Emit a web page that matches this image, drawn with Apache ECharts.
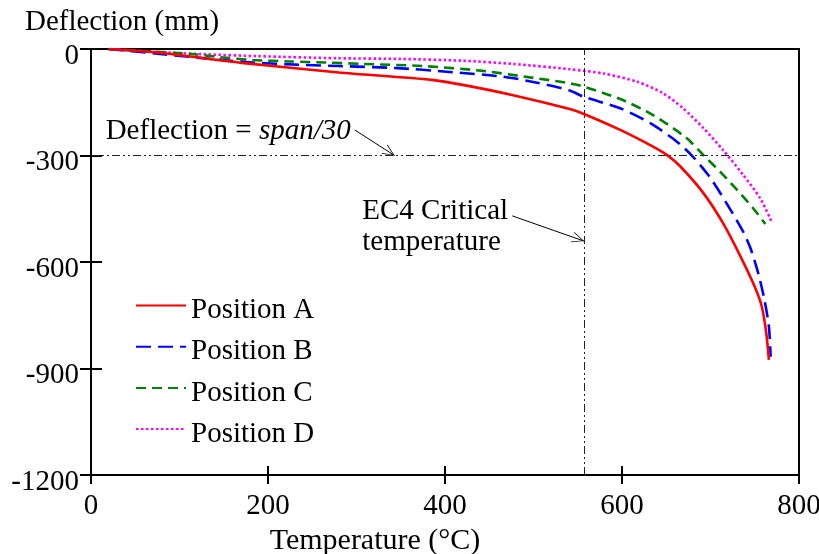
<!DOCTYPE html>
<html><head><meta charset="utf-8">
<script src="https://cdn.jsdelivr.net/npm/echarts@6/dist/echarts.min.js"></script>
<style>html,body{margin:0;padding:0;background:#fff}#c{width:819px;height:554px}</style>
</head><body><div id="c"></div>
<script>
// ---- data ----
const xTicks = [0, 200, 400, 600, 800];
const yTicks = [0, -300, -600, -900, -1200];
const seriesNames = ['Position A', 'Position B', 'Position C', 'Position D'];

const tempA = [20, 75, 170, 280, 385, 420, 477, 541, 557, 598, 635, 651, 666, 692, 714, 733, 750, 758, 763, 766];
const deflA = [0, -10, -39, -66, -87, -101, -130, -169, -183, -228, -275, -299, -331, -406, -490, -580, -670, -726, -800, -876];

const tempB = [20, 70, 176, 242, 280, 347, 402, 466, 504, 541, 556, 598, 632, 662, 680, 699, 718, 737, 745, 754, 761, 766, 768];
const deflB = [0, -12, -37, -45, -48, -54, -64, -78, -95, -117, -134, -167, -209, -261, -303, -360, -434, -515, -560, -632, -707, -782, -867];

const tempC = [20, 70, 112, 146, 183, 225, 266, 307, 375, 440, 496, 549, 598, 635, 673, 692, 711, 730, 748, 762];
const deflC = [0, -7, -14, -23, -31, -35, -38, -42, -48, -61, -80, -101, -141, -186, -251, -299, -346, -397, -448, -493];

const tempD = [20, 78, 131, 187, 278, 350, 420, 477, 541, 579, 617, 646, 669, 692, 714, 737, 756, 769];
const deflD = [0, -9, -15, -20, -26, -28, -33, -42, -57, -69, -92, -124, -167, -223, -284, -355, -420, -486];

const critTemp = 557;      // EC4 critical temperature
const limitDefl = -300;    // span/30

// annotation anchor points (data coordinates)
const spanLabelAt = [16, -231];
const spanArrow = [[298, -228], [343, -300]];
const ecLabelAt = [306, -502];
const ecArrow = [[476, -470], [557, -541]];

// ---- chart ----
const F = 'Liberation Serif';
const FS = 29;
const zip = (a, b) => a.map((v, i) => [v, b[i]]);
const colors = ['#ff0000', '#0000ff', '#008000', '#ff00ff'];
const dashes = ['solid', [15, 7], [10, 6], [2.5, 2.5]];
const temps = [tempA, tempB, tempC, tempD];
const defls = [deflA, deflB, deflC, deflD];

const refStyle = { color: '#222', width: 1, type: [8, 3, 2, 3, 2, 3] };
const chevron = 'path://M0,-12L0.01,-12L0,-11.99ZM0,0L6,12L5,12L0,1.6L-5,12L-6,12Z';

const series = seriesNames.map((n, i) => ({
  name: n, type: 'line', data: zip(temps[i], defls[i]),
  showSymbol: false, symbol: 'none', smooth: 0.25,
  lineStyle: { color: colors[i], width: 2.6, type: dashes[i] },
  itemStyle: { color: colors[i] },
  z: 5 - i
}));

series.push({
  name: 'annot', type: 'line', data: [], silent: true,
  markLine: {
    silent: true, symbol: 'none', animation: false,
    label: { show: false },
    lineStyle: refStyle,
    data: [{ yAxis: limitDefl }, { xAxis: critTemp }]
  }
});
series.push({
  name: 'arrows', type: 'line', data: [], silent: true,
  markLine: {
    silent: true, animation: false,
    symbol: ['none', chevron], symbolSize: [11, 24],
    label: { show: false },
    lineStyle: { color: '#000', width: 1, type: 'solid' },
    data: [
      [{ coord: spanArrow[0] }, { coord: spanArrow[1] }],
      [{ coord: ecArrow[0] }, { coord: ecArrow[1] }]
    ]
  },
  markPoint: {
    silent: true, animation: false, symbol: 'circle', symbolSize: 1,
    itemStyle: { color: 'rgba(0,0,0,0)' },
    label: {
      show: true, position: 'right', distance: 0, color: '#000',
      fontFamily: F, fontSize: FS, align: 'left'
    },
    data: [
      { coord: spanLabelAt, label: { formatter: 'Deflection = {i|span/30}',
          rich: { i: { fontStyle: 'italic', fontFamily: F, fontSize: FS, color: '#000' } } } },
      { coord: ecLabelAt, label: { formatter: 'EC4 Critical\ntemperature', lineHeight: 31 } }
    ]
  }
});

const axisCommon = {
  axisLine: { show: true, onZero: false, lineStyle: { color: '#000', width: 2 } },
  splitLine: { show: false }
};

const option = {
  animation: false,
  backgroundColor: '#fff',
  grid: { left: 91, right: 20, top: 49, bottom: 79, show: true, borderColor: '#000', borderWidth: 2,
          containLabel: false, outerBoundsMode: 'none' },
  legend: {
    data: seriesNames, orient: 'vertical', left: 135, top: 286, padding: 0,
    itemWidth: 50, itemHeight: 14, itemGap: 2.2,
    itemStyle: { opacity: 0 },
    formatter: name => '{a|' + name + '}',
    textStyle: { fontFamily: F, fontSize: FS, color: '#000',
      rich: { a: { fontFamily: F, fontSize: FS, color: '#000', lineHeight: 30, padding: [10, 0, 0, 0] } } }
  },
  xAxis: [
    Object.assign({}, axisCommon, {
      type: 'value', min: 0, max: 800, interval: 200, position: 'bottom',
      name: 'Temperature (°C)', nameLocation: 'middle', nameGap: 50,
      nameTextStyle: { fontFamily: F, fontSize: 30, color: '#000', padding: [0, 140, 0, 0] },
      axisTick: { show: true, inside: false, length: 9, lineStyle: { color: '#000', width: 2 } },
      axisLabel: { fontFamily: F, fontSize: FS, color: '#000', margin: 17, formatter: v => String(v) }
    }),
    Object.assign({}, axisCommon, {
      type: 'value', min: 0, max: 800, interval: 200, position: 'bottom', gridIndex: 0,
      axisTick: { show: true, inside: true, length: 9, lineStyle: { color: '#000', width: 2 } },
      axisLabel: { show: false }
    })
  ],
  yAxis: [
    Object.assign({}, axisCommon, {
      type: 'value', min: -1200, max: 0, interval: 300, position: 'left',
      name: 'Deflection (mm)', nameLocation: 'end', nameGap: 12,
      nameTextStyle: { fontFamily: F, fontSize: FS, color: '#000', align: 'center', verticalAlign: 'bottom', padding: [0, 0, 0, 62] },
      axisTick: { show: true, inside: false, length: 11, lineStyle: { color: '#000', width: 2 } },
      axisLabel: { fontFamily: F, fontSize: FS, color: '#000', margin: 12,
        formatter: v => '{a|' + String(v) + '}',
        rich: { a: { fontFamily: F, fontSize: FS, color: '#000', padding: [14, 0, 0, 0] } } }
    }),
    Object.assign({}, axisCommon, {
      type: 'value', min: -1200, max: 0, interval: 300, position: 'left', gridIndex: 0,
      axisTick: { show: true, inside: true, length: 11, lineStyle: { color: '#000', width: 2 } },
      axisLabel: { show: false }
    })
  ],
  series: series
};

const chart = echarts.init(document.getElementById('c'), null, { renderer: 'canvas' });
chart.setOption(option);
</script></body></html>
